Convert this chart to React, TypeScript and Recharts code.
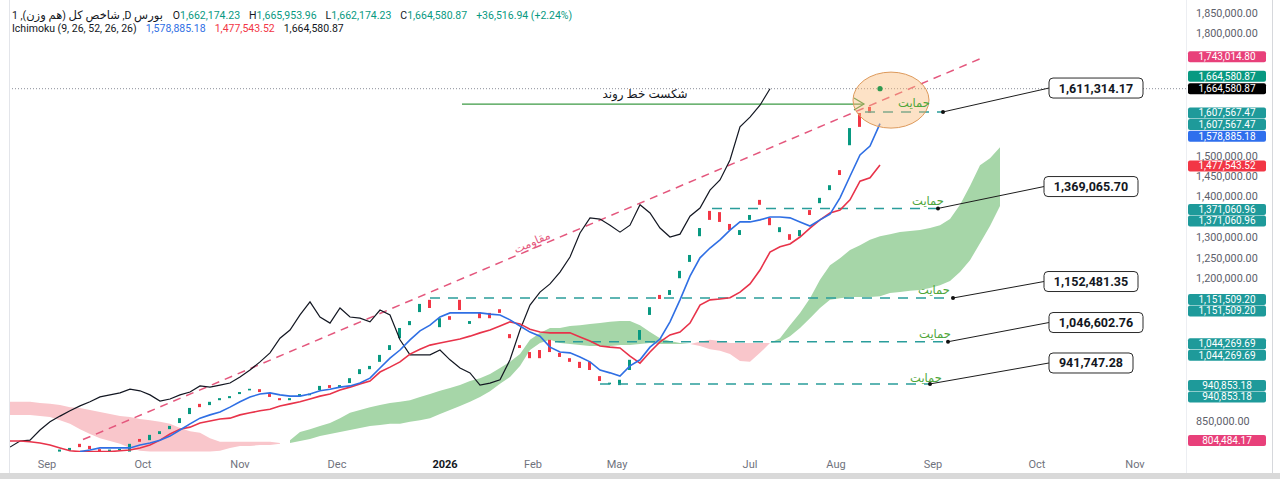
import React from 'react';
import {
  ComposedChart,
  Line,
  Area,
  Bar,
  XAxis,
  YAxis,
  ReferenceLine,
  ReferenceDot,
} from 'recharts';

// time axis is counted in slots (one slot per plotted bar), prices are in thousands
const tickPositions = [3.7, 13.3, 23, 32.7, 43.5, 52.3, 60.7, 74, 82.6, 92.3, 102.7, 112.5];
const tickLabels = ['Sep', 'Oct', 'Nov', 'Dec', '2026', 'Feb', 'May', 'Jul', 'Aug', 'Sep', 'Oct', 'Nov'];
// only the price ticks that are not hidden behind the coloured price badges
const priceTicks = [850000, 1200000, 1250000, 1300000, 1400000, 1450000, 1500000, 1800000, 1850000];

const candleStart = 5;
const opens = [
  775, 777, 794, 789, 781, 777, 779, 775, 806, 803, 818, 830, 845, 867, 892, 889, 901, 906, 916, 926,
  928, 916, 906, 901, 911, 914, 926, 938, 931, 943, 965, 977, 995, 1024, 1053, 1085, 1117, 1147, 1080, 1107,
  1147, 1088, 1117, 1115, 1124, 1063, 1036, 1019, 1024, 1049, 1017, 1004, 995, 995, 960, 941, 938, 975, 1049, 1110,
  1159, 1159, 1200, 1240, 1303, 1365, 1362, 1333, 1306, 1343, 1392, 1348, 1313, 1308, 1303, 1367, 1384, 1416, 1465, 1526,
  1605, 1620, 1662.17423,
];
const closes = [
  780, 784, 786, 781, 775, 779, 781, 794, 799, 816, 825, 838, 857, 882, 884, 897, 906, 911, 921, 928,
  921, 909, 901, 906, 916, 916, 936, 931, 938, 955, 977, 985, 1012, 1036, 1078, 1095, 1137, 1127, 1102, 1098,
  1122, 1095, 1102, 1102, 1115, 1053, 1029, 1004, 1004, 1019, 1007, 995, 980, 975, 948, 943, 951, 1000, 1073, 1129,
  1149, 1171, 1218, 1257, 1323, 1343, 1338, 1318, 1318, 1355, 1380, 1330, 1325, 1294, 1318, 1355, 1397, 1428, 1453, 1568,
  1571, 1605, 1664.58087,
];

// conversion line starts at slot 7
const tenkanStart = 7;
const tenkan = [
  775, 779, 784, 784, 784, 784, 791, 796, 803, 813, 828, 843, 857, 865, 872, 884, 897, 909, 916, 919,
  914, 911, 911, 916, 924, 928, 933, 936, 943, 955, 980, 1004, 1024, 1049, 1071, 1085, 1105, 1115, 1115, 1115,
  1115, 1112, 1110, 1098, 1083, 1068, 1058, 1031, 1019, 1017, 1007, 995, 975, 968, 960, 985, 1000, 1031, 1051, 1093,
  1147, 1205, 1250, 1274, 1294, 1318, 1338, 1338, 1343, 1350, 1350, 1348, 1338, 1328, 1343, 1357, 1397, 1450, 1502, 1524,
  1578.88518,
];
const kijun = [
  801, 801, 799, 796, 791, 784, 777, 775, 775, 775, 775, 777, 779, 784, 791, 803, 818, 830, 835, 845,
  850, 855, 857, 865, 870, 875, 879, 887, 892, 897, 904, 911, 916, 926, 933, 941, 948, 970, 982, 995,
  1014, 1026, 1036, 1041, 1046, 1051, 1058, 1066, 1073, 1083, 1093, 1088, 1075, 1068, 1066, 1066, 1066, 1056, 1046, 1034,
  1031, 1029, 1009, 992, 1019, 1044, 1061, 1068, 1090, 1134, 1147, 1149, 1152, 1166, 1186, 1220, 1264, 1277, 1284, 1301,
  1323, 1343, 1360, 1367, 1392, 1438, 1446, 1477.54352,
];
const chikou = [
  786, 801, 803, 828, 848, 862, 875, 887, 897, 909, 914, 919, 928, 924, 914, 899, 904, 914, 921, 936,
  933, 938, 943, 958, 975, 995, 1017, 1053, 1073, 1110, 1142, 1105, 1090, 1127, 1105, 1102, 1093, 1122, 1110, 1049,
  1012, 1012, 1012, 1024, 1000, 980, 968, 938, 943, 951, 1000, 1073, 1134, 1166, 1186, 1215, 1252, 1311, 1348, 1345,
  1330, 1313, 1330, 1380, 1360, 1323, 1301, 1308, 1352, 1372, 1416, 1441, 1490, 1571, 1595, 1624, 1664.58087,
];
const spanA = [
  865, 865, 865, 862, 860, 852, 843, 830, 818, 808, 801, 794, 784, 777, 775, 775, 775, 775, 775, 775,
  775, 777, 784, 789, 789, 791, 791, 794, 803, 823, 830, 838, 845, 857, 870, 877, 884, 889, 894, 897,
  901, 909, 916, 924, 931, 938, 948, 955, 965, 980, 995, 1014, 1049, 1066, 1078, 1078, 1083, 1085, 1088, 1090,
  1093, 1095, 1095, 1085, 1068, 1053, 1046, 1041, 1039, 1034, 1026, 1022, 1014, 997, 995, 1017, 1041, 1053, 1085, 1115,
  1151, 1196, 1232, 1249, 1269, 1281, 1294, 1303, 1308, 1313, 1316, 1318, 1323, 1330, 1345, 1380, 1426, 1477, 1494, 1521,
];
const spanB = [
  897, 897, 897, 894, 892, 889, 884, 882, 877, 872, 867, 862, 860, 855, 852, 848, 843, 833, 825, 821,
  808, 799, 799, 799, 799, 799, 799, 796, 796, 801, 806, 813, 818, 823, 828, 833, 838, 840, 843, 843,
  848, 852, 857, 867, 877, 887, 897, 909, 923, 941, 958, 985, 1024, 1041, 1049, 1041, 1039, 1036, 1034, 1034,
  1034, 1036, 1036, 1039, 1041, 1039, 1039, 1039, 1039, 1044, 1049, 1046, 1041, 1041, 1041, 1041, 1041, 1044, 1058, 1078,
  1102, 1127, 1147, 1151, 1154, 1154, 1154, 1156, 1164, 1166, 1169, 1171, 1176, 1183, 1193, 1215, 1244, 1286, 1328, 1377,
];

const lastClose = 1664580.87;

// drawn objects, placed in slot / price coordinates
const supportLines = [
  { value: 1607567.47, from: 85.5, to: 93.3 },
  { value: 1371060.96, from: 70.2, to: 92.8 },
  { value: 1151509.2, from: 42, to: 94.3 },
  { value: 1044269.69, from: 54.5, to: 93.8 },
  { value: 940853.18, from: 59, to: 92 },
];
const callouts = [
  { text: '1,611,314.17', ax: 93.3, ay: 1607567.47, bx: 108.6, edge: 103.9, by: 1666200, w: 94 },
  { text: '1,369,065.70', ax: 92.8, ay: 1371060.96, bx: 108.1, edge: 103.4, by: 1424700, w: 94 },
  { text: '1,152,481.35', ax: 94.3, ay: 1151509.2, bx: 108.1, edge: 103.4, by: 1191900, w: 94 },
  { text: '1,046,602.76', ax: 93.8, ay: 1044269.69, bx: 108.6, edge: 103.9, by: 1091400, w: 94 },
  { text: '941,747.28', ax: 92, ay: 940853.18, bx: 108.1, edge: 103.9, by: 992200, w: 84 },
];
const supportTexts = [
  { x: 90.4, y: 1629400 },
  { x: 91.8, y: 1389200 },
  { x: 92.4, y: 1171100 },
  { x: 92.5, y: 1063200 },
  { x: 91.6, y: 955400 },
];
const trendStart = { x: 7.3, y: 804484.17 };
const trendEnd = { x: 97.5, y: 1743014.8 };
const breakArrow = { from: 45.2, to: 85.4, y: 1627000 };
const focus = { x: 88.1, y: 1636600 };

const badges = [
  { value: 1743014.8, color: '#e8407a', dy: 0 },
  { value: 1664580.87, color: '#089981', dy: -12.5 },
  { value: 1664580.87, color: '#000000', dy: 0 },
  { value: 1607567.47, color: '#1e9a9a', dy: 1 },
  { value: 1607567.47, color: '#1e9a9a', dy: 12.5 },
  { value: 1578885.18, color: '#2f6fed', dy: 12.5 },
  { value: 1477543.52, color: '#f23645', dy: 1 },
  { value: 1371060.96, color: '#1e9a9a', dy: 1 },
  { value: 1371060.96, color: '#1e9a9a', dy: 12.5 },
  { value: 1151509.2, color: '#1e9a9a', dy: 1.5 },
  { value: 1151509.2, color: '#1e9a9a', dy: 13 },
  { value: 1044269.69, color: '#1e9a9a', dy: 2 },
  { value: 1044269.69, color: '#1e9a9a', dy: 13.5 },
  { value: 940853.18, color: '#1e9a9a', dy: 1.5 },
  { value: 940853.18, color: '#1e9a9a', dy: 13 },
  { value: 804484.17, color: '#e8407a', dy: 1 },
];

const K = 1000;
const UP = '#089981';
const DOWN = '#f23645';
const TEAL = '#2a9d9b';
const FONT = 'Roboto, "DejaVu Sans", sans-serif';

const rows = spanA.map((a0, i) => {
  const row: any = { i };
  const ci = i - candleStart;
  if (ci >= 0 && ci < opens.length) {
    const o = opens[ci] * K;
    const c = closes[ci] * K;
    row.body = [Math.min(o, c), Math.max(o, c)];
    row.up = c >= o;
  }
  const ti = i - tenkanStart;
  if (ti >= 0 && ti < tenkan.length) row.tenkan = tenkan[ti] * K;
  if (i < kijun.length) row.kijun = kijun[i] * K;
  if (i < chikou.length) row.chikou = chikou[i] * K;
  const a = a0 * K;
  const b = spanB[i] * K;
  if (a >= b) row.cloudUp = [b, a];
  if (a <= b) row.cloudDown = [a, b];
  return row;
});

const fmt = (v: number) =>
  v.toLocaleString('en-US', { minimumFractionDigits: 2, maximumFractionDigits: 2 });

const TimeTick = (props: any) => {
  const { x, y, payload } = props;
  const label = tickLabels[tickPositions.indexOf(payload.value)];
  const bold = label === '2026';
  return (
    <text
      x={x}
      y={y + 14}
      textAnchor="middle"
      fontSize={11}
      fontFamily={FONT}
      fontWeight={bold ? 700 : 400}
      fill={bold ? '#131722' : '#6f727d'}
    >
      {label}
    </text>
  );
};

const CandleBody = (props: any) => {
  const { x, y, width, height, payload } = props;
  if (x == null || !payload || !payload.body) return null;
  const top = Math.min(y, y + height);
  const h = Math.abs(height);
  const hh = Math.max(h, 1.6);
  return (
    <rect x={x} y={top + h / 2 - hh / 2} width={width} height={hh} fill={payload.up ? UP : DOWN} />
  );
};

const App: React.FC = () => {
  return (
    <div
      style={{
        position: 'fixed',
        left: 0,
        top: 0,
        width: 1280,
        height: 479,
        background: '#ffffff',
        overflow: 'hidden',
        fontFamily: FONT,
      }}
    >
      <ComposedChart
        width={1280}
        height={479}
        data={rows}
        margin={{ top: 0, right: 0, bottom: 0, left: 10 }}
      >
        <XAxis
          type="number"
          dataKey="i"
          domain={[0, 117.6]}
          allowDataOverflow
          ticks={tickPositions}
          interval={0}
          tick={<TimeTick />}
          axisLine={false}
          tickLine={false}
          tickSize={0}
          height={27}
        />
        <YAxis
          orientation="right"
          type="number"
          domain={[774000, 1882000]}
          allowDataOverflow
          ticks={priceTicks}
          interval={0}
          tickFormatter={fmt}
          width={94}
          axisLine={false}
          tickLine={false}
          tickSize={0}
          tickMargin={10}
          tick={{ fill: '#5d606b', fontSize: 10.8, fontFamily: FONT }}
        />

        <Area
          dataKey="cloudDown"
          stroke="none"
          fill="#f9c6cb"
          fillOpacity={1}
          isAnimationActive={false}
          dot={false}
          activeDot={false}
        />
        <Area
          dataKey="cloudUp"
          stroke="none"
          fill="#a6d6a8"
          fillOpacity={1}
          isAnimationActive={false}
          dot={false}
          activeDot={false}
        />

        <ReferenceLine y={lastClose} stroke="#8a8e99" strokeDasharray="1 2" strokeWidth={1} />

        {supportLines.map((s, k) => (
          <ReferenceLine
            key={`sup-${k}`}
            segment={[
              { x: s.from, y: s.value },
              { x: s.to, y: s.value },
            ]}
            stroke={TEAL}
            strokeWidth={1.5}
            strokeDasharray="10 8"
          />
        ))}

        <ReferenceLine
          segment={[trendStart, trendEnd]}
          stroke="#e4577d"
          strokeWidth={1.5}
          strokeDasharray="8 6"
        />

        <ReferenceLine
          segment={[
            { x: breakArrow.from, y: breakArrow.y },
            { x: breakArrow.to, y: breakArrow.y },
          ]}
          stroke="#3d9a45"
          strokeWidth={1.2}
        />
        <ReferenceDot
          x={breakArrow.to}
          y={breakArrow.y}
          r={0}
          shape={(p: any) => (
            <path
              d={`M${p.cx - 10},${p.cy - 6} L${p.cx},${p.cy} L${p.cx - 10},${p.cy + 6}`}
              fill="none"
              stroke="#3d9a45"
              strokeWidth={1.2}
            />
          )}
        />

        <Line
          dataKey="chikou"
          stroke="#131722"
          strokeWidth={1.2}
          dot={false}
          activeDot={false}
          isAnimationActive={false}
        />
        <Line
          dataKey="kijun"
          stroke="#e8334a"
          strokeWidth={1.6}
          dot={false}
          activeDot={false}
          isAnimationActive={false}
        />
        <Line
          dataKey="tenkan"
          stroke="#2f6fe4"
          strokeWidth={1.6}
          dot={false}
          activeDot={false}
          isAnimationActive={false}
        />
        <Bar dataKey="body" barSize={3} shape={<CandleBody />} isAnimationActive={false} />

        <ReferenceDot
          x={focus.x}
          y={focus.y}
          r={0}
          shape={(p: any) => (
            <ellipse
              cx={p.cx}
              cy={p.cy}
              rx={38}
              ry={28}
              fill="rgba(250,186,120,0.42)"
              stroke="#dd9a5c"
              strokeWidth={1}
            />
          )}
        />
        <ReferenceDot
          x={candleStart + closes.length - 1}
          y={lastClose}
          r={2.6}
          fill="#2e9a50"
          stroke="none"
        />

        {callouts.map((c, k) => (
          <ReferenceLine
            key={`cl-${k}`}
            segment={[
              { x: c.ax, y: c.ay },
              { x: c.edge, y: c.by },
            ]}
            stroke="#1d1d1d"
            strokeWidth={1}
          />
        ))}
        {callouts.map((c, k) => (
          <ReferenceDot key={`ca-${k}`} x={c.ax} y={c.ay} r={2} fill="#111" stroke="none" />
        ))}
        {callouts.map((c, k) => (
          <ReferenceDot
            key={`cb-${k}`}
            x={c.bx}
            y={c.by}
            r={0}
            shape={(p: any) => (
              <g>
                <rect
                  x={p.cx - c.w / 2}
                  y={p.cy - 10}
                  width={c.w}
                  height={20}
                  rx={4}
                  fill="#ffffff"
                  stroke="#2b2b2b"
                  strokeWidth={1}
                />
                <text
                  x={p.cx}
                  y={p.cy}
                  dy="0.36em"
                  textAnchor="middle"
                  fontSize={12.5}
                  fontWeight={700}
                  fontFamily={FONT}
                  fill="#131722"
                >
                  {c.text}
                </text>
              </g>
            )}
          />
        ))}

        {supportTexts.map((t, k) => (
          <ReferenceDot
            key={`st-${k}`}
            x={t.x}
            y={t.y}
            r={0}
            shape={(p: any) => (
              <text
                x={p.cx}
                y={p.cy}
                dy="0.35em"
                textAnchor="middle"
                fontSize={11.5}
                fontFamily={FONT}
                fill="#4fa63a"
              >
                حمایت
              </text>
            )}
          />
        ))}
        <ReferenceDot
          x={52.2}
          y={1288700}
          r={0}
          shape={(p: any) => (
            <text
              x={p.cx}
              y={p.cy}
              dy="0.35em"
              textAnchor="middle"
              fontSize={11.5}
              fontFamily={FONT}
              fill="#e4577d"
              transform={`rotate(-23.5 ${p.cx} ${p.cy})`}
            >
              مقاومت
            </text>
          )}
        />
        <ReferenceDot
          x={63.5}
          y={1651500}
          r={0}
          shape={(p: any) => (
            <text
              x={p.cx}
              y={p.cy}
              dy="0.35em"
              textAnchor="middle"
              fontSize={12}
              fontFamily={FONT}
              fill="#131722"
            >
              شکست خط روند
            </text>
          )}
        />

        {badges.map((b, k) => (
          <ReferenceDot
            key={`bd-${k}`}
            x={117.6}
            y={b.value}
            r={0}
            ifOverflow="visible"
            shape={(p: any) => (
              <g>
                <rect x={p.cx + 2} y={p.cy + b.dy - 5.5} width={78} height={11} rx={2} fill={b.color} />
                <text
                  x={p.cx + 41}
                  y={p.cy + b.dy}
                  dy="0.35em"
                  textAnchor="middle"
                  fontSize={10}
                  fontFamily={FONT}
                  fill="#ffffff"
                >
                  {fmt(b.value)}
                </text>
              </g>
            )}
          />
        ))}
      </ComposedChart>

      <div style={{ position: 'absolute', left: 9, top: 0, width: 1, height: 473, background: '#e3e5ea' }} />
      <div style={{ position: 'absolute', left: 1186, top: 0, width: 1, height: 473, background: '#eceef2' }} />
      <div style={{ position: 'absolute', left: 1272, top: 0, width: 1, height: 473, background: '#d6d8dc' }} />
      <div style={{ position: 'absolute', left: 0, top: 473, width: 1280, height: 6, background: '#d9d9d9' }} />

      <div
        style={{
          position: 'absolute',
          left: 12,
          top: 9,
          fontSize: 10.5,
          lineHeight: '13px',
          color: '#131722',
          whiteSpace: 'nowrap',
        }}
      >
        <div>
          <span>1 ,(</span>
          <span style={{ unicodeBidi: 'isolate', fontSize: 11.5 }}>هم وزن</span>
          <span>) </span>
          <span style={{ unicodeBidi: 'isolate', fontSize: 11.5 }}>شاخص کل</span>
          <span> ,D </span>
          <span style={{ unicodeBidi: 'isolate', fontSize: 11.5 }}>بورس</span>
          <span style={{ marginLeft: 10 }}>O</span>
          <span style={{ color: UP }}>1,662,174.23</span>
          <span style={{ marginLeft: 9 }}>H</span>
          <span style={{ color: UP }}>1,665,953.96</span>
          <span style={{ marginLeft: 9 }}>L</span>
          <span style={{ color: UP }}>1,662,174.23</span>
          <span style={{ marginLeft: 9 }}>C</span>
          <span style={{ color: UP }}>1,664,580.87</span>
          <span style={{ marginLeft: 9, color: UP }}>+36,516.94 (+2.24%)</span>
        </div>
        <div>
          <span>Ichimoku (9, 26, 52, 26, 26)</span>
          <span style={{ marginLeft: 9, color: '#2f6fe4' }}>1,578,885.18</span>
          <span style={{ marginLeft: 9, color: '#f23645' }}>1,477,543.52</span>
          <span style={{ marginLeft: 9, color: '#131722' }}>1,664,580.87</span>
        </div>
      </div>
    </div>
  );
};

export default App;
